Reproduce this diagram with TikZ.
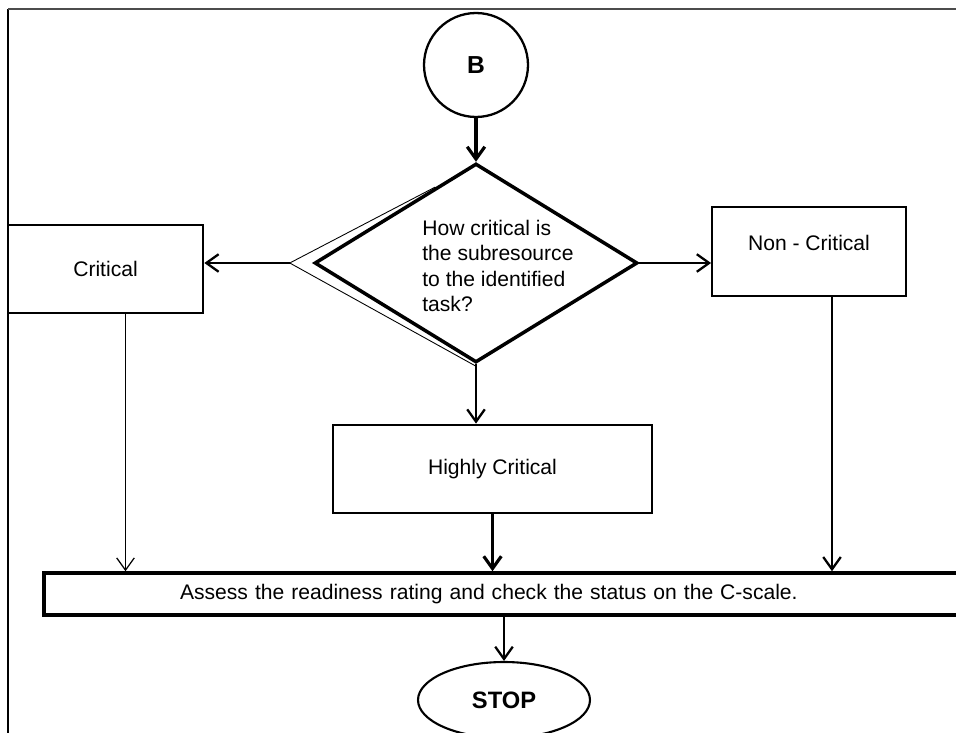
\documentclass[tikz,border=0pt]{standalone}
\usepackage{fontspec}
\setmainfont{Liberation Sans}
\usetikzlibrary{shapes.geometric,arrows.meta,calc}

\begin{document}
\begin{tikzpicture}[x=0.02cm, y=-0.02cm, font=\fontsize{12}{14.5}\selectfont,
                    procbox/.style={draw, rectangle, line width=1.6pt, inner sep=0pt, minimum height=1.76cm},
                    decision/.style={draw, diamond, line width=2pt, inner sep=0pt,
                                     minimum width=6.46cm, minimum height=3.98cm},
                    link/.style={draw, circle, line width=1.3pt, minimum size=2.08cm,
                                 font=\fontsize{14}{16}\selectfont\bfseries},
                    terminal/.style={draw, ellipse, line width=1.2pt, minimum width=3.44cm, minimum height=1.52cm,
                                     font=\fontsize{13.5}{16}\selectfont\bfseries},
                    flow/.style={-{Straight Barb[length=7pt,width=10pt]}, line width=1.3pt}]
\useasboundingbox (0,0) rectangle (956,733);
\clip (0,0) rectangle (956,733);
% page frame
\draw[line width=0.8pt] (8,733) -- (8,9);
\draw[line width=1.4pt, black!70] (8,9) -- (956,9);

\node[link] (B) at (476,65) {B}; % entry
\node[decision] (q) at (476,263) {};
\node[align=left, anchor=west, inner sep=0pt] (qtext) at (422,266)
    {How critical is\\the subresource\\to the identified\\task?};
\node[procbox, minimum width=3.9cm] (crit) at (105.5,269) {Critical};
\node[procbox, line width=1.1pt, minimum width=3.88cm, minimum height=1.78cm, text depth=0.36cm] (noncrit) at (809,251.5) {Non - Critical};
\node[procbox, minimum width=6.38cm] (high) at (492.5,469) {Highly Critical};
\node[procbox, line width=2pt, minimum width=18.62cm, minimum height=0.84cm,
      text width=13.18cm, inner xsep=2.72cm, align=left] (assess) at (509.5,594)
    {Assess the readiness rating and check the status on the C-scale.};
\node[terminal] (stop) at (504,700) {STOP};

\draw[flow, line width=1.8pt] (B) -- (q.north);
\draw[line width=0.5pt] ($(q.north)!0.25!(q.west)$) -- ([xshift=-0.46cm]q.west) -- ($(q.south)+(0,2)$);
\draw[flow] ([xshift=-0.46cm]q.west) -- (crit.east |- q.west);
\draw[flow] (q.east) -- (q.east -| noncrit.west);
\draw[flow] (q.south) -- (q.south |- high.north);
\draw[flow, line width=0.7pt] ([xshift=0.4cm]crit.south) -- ([xshift=0.4cm]crit.south |- assess.north);
\draw[flow] ([xshift=0.46cm]noncrit.south) -- ([xshift=0.46cm]noncrit.south |- assess.north);
\draw[flow, line width=1.8pt] (high.south) -- (high.south |- assess.north);
\draw[flow] (stop.north |- assess.south) -- (stop.north);
\end{tikzpicture}
\end{document}
